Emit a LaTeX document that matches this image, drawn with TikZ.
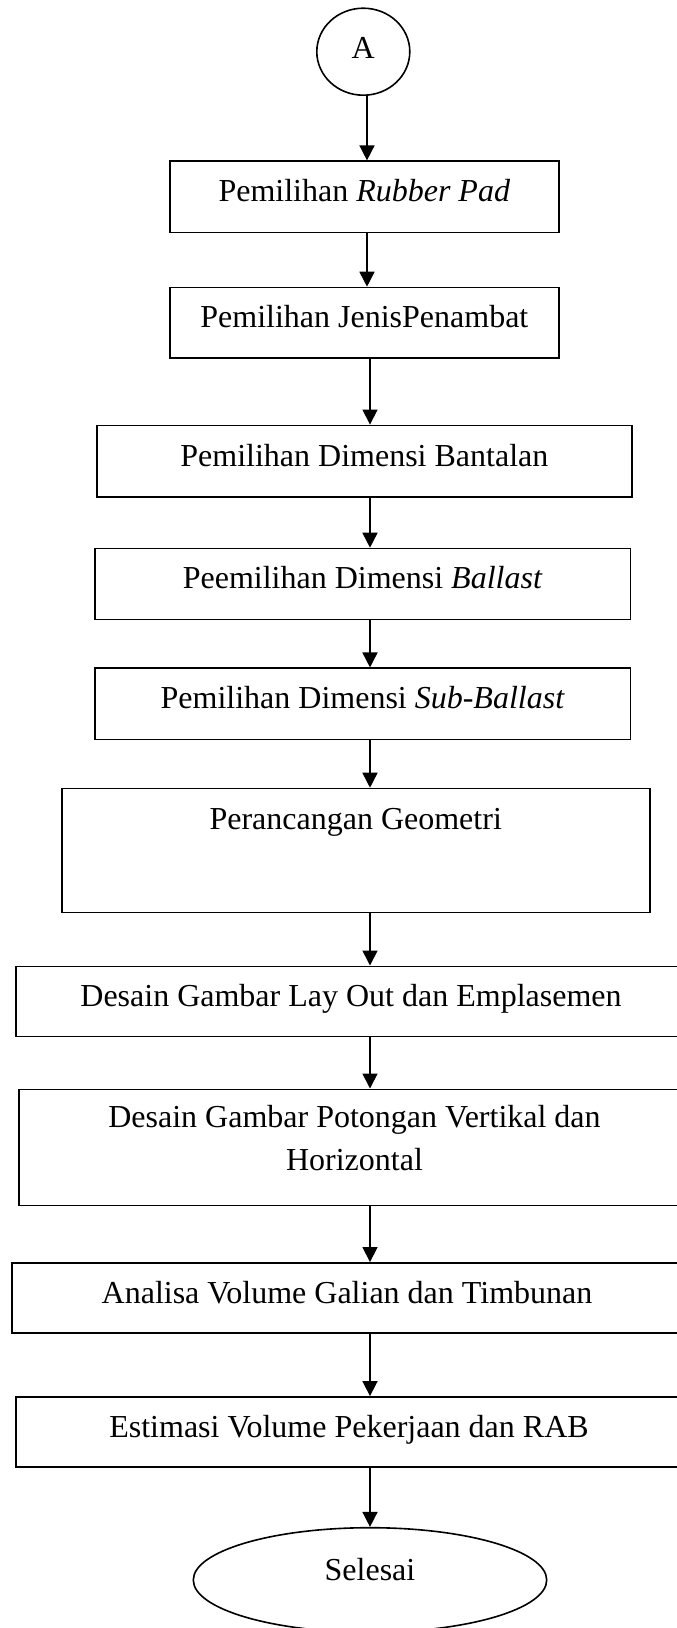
\documentclass[tikz,border=0pt]{standalone}
\usepackage{fontspec}
\setmainfont{Liberation Serif}
\usetikzlibrary{arrows.meta,shapes.geometric}
\begin{document}
\begin{tikzpicture}[x=1pt,y=-1pt,
  every node/.style={font=\fontsize{32}{43}\selectfont},
  box/.style={draw, line width=1.6pt, inner sep=0pt, text height=22pt, text depth=12pt},
  txt/.style={inner sep=0pt, anchor=base},
  arr/.style={-{Triangle[width=15pt,length=15pt]}, line width=1.6pt},
]
\useasboundingbox (0,0) rectangle (677,1628);
\fill[white] (0,0) rectangle (677,1628);
\clip (0,0) rectangle (677,1628);

\coordinate (s1) at (367,0);
\coordinate (s2) at (370,0);

\node[ellipse, draw, line width=1.6pt, minimum width=93pt, minimum height=87pt, inner sep=0pt, text height=22pt, text depth=9pt] (A) at (363.3,51.7) {A};

\node[box, minimum width=388.7pt, minimum height=71.4pt] (rp) at (364.35,196.9) {Pemilihan \textit{Rubber Pad}};
\node[box, minimum width=388.7pt, minimum height=70.2pt] (jp) at (364.35,322.6) {Pemilihan JenisPenambat};
\node[box, minimum width=535.3pt, minimum height=71.7pt] (bt) at (364.35,461.2) {Pemilihan Dimensi Bantalan};
\node[box, minimum width=535.3pt, minimum height=70.8pt] (bl) at (362.7,583.9) {Peemilihan Dimensi \textit{Ballast}};
\node[box, minimum width=535.3pt, minimum height=71.1pt] (sb) at (362.7,703.8) {Pemilihan Dimensi \textit{Sub-Ballast}};

\node[box, minimum width=588pt, minimum height=124pt] (gm) at (355.7,850.5) {};
\node[txt] (gmt) at ([yshift=-41.6pt]gm.north) {Perancangan Geometri};

\node[box, minimum width=670pt, minimum height=70.2pt] (lo) at (351,1001.4) {Desain Gambar Lay Out dan Emplasemen};

\node[box, minimum width=671pt, minimum height=116.2pt] (pt) at (354.5,1147.4) {};
\node[txt] (pt1) at ([yshift=-39pt]pt.north) {Desain Gambar Potongan Vertikal dan};
\node[txt] (pt2) at ([yshift=-82.4pt]pt.north) {Horizontal};

\node[box, minimum width=670pt, minimum height=70.3pt] (an) at (347,1298) {Analisa Volume Galian dan Timbunan};
\node[box, minimum width=666pt, minimum height=70.2pt] (es) at (349,1432) {Estimasi Volume Pekerjaan dan RAB};

\node[draw, ellipse, line width=1.6pt, minimum width=353.4pt, minimum height=104.6pt, inner sep=0pt, text height=22pt, text depth=22pt] (end) at (370,1580) {Selesai};

\draw[arr] (A.south -| s1) -- (rp.north -| s1);
\draw[arr] (rp.south -| s1) -- (jp.north -| s1);
\draw[arr] (jp.south -| s2) -- (bt.north -| s2);
\draw[arr] (bt.south -| s2) -- (bl.north -| s2);
\draw[arr] (bl.south -| s2) -- (sb.north -| s2);
\draw[arr] (sb.south -| s2) -- (gm.north -| s2);
\draw[arr] (gm.south -| s2) -- (lo.north -| s2);
\draw[arr] (lo.south -| s2) -- (pt.north -| s2);
\draw[arr] (pt.south -| s2) -- (an.north -| s2);
\draw[arr] (an.south -| s2) -- (es.north -| s2);
\draw[arr] (es.south -| s2) -- (end.north -| s2);
\end{tikzpicture}
\end{document}
